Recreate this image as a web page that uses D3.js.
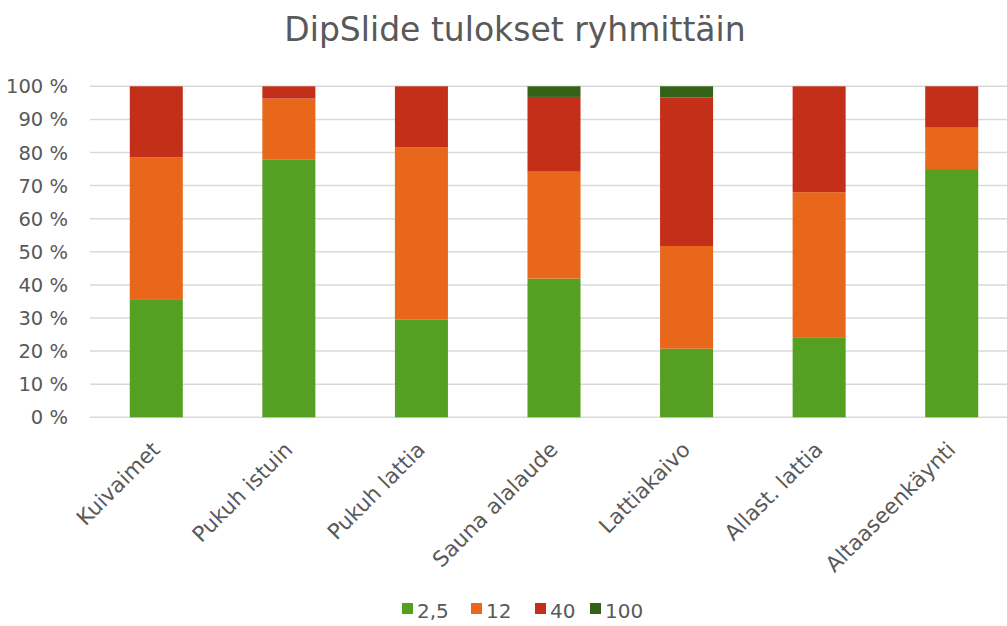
<!DOCTYPE html>
<html><head><meta charset="utf-8">
<script src="https://cdn.jsdelivr.net/npm/d3@7"></script>
<style>
html,body{margin:0;padding:0;background:#fff;}
svg{display:block;font-family:"DejaVu Sans",sans-serif;}
</style></head>
<body><svg id="c" width="1007" height="626"></svg>
<script>
const categories = ["Kuivaimet","Pukuh istuin","Pukuh lattia","Sauna alalaude","Lattiakaivo","Allast. lattia","Altaaseenkäynti"];
const seriesNames = ["2,5","12","40","100"];
const s25  = [35.7, 77.8, 29.6, 41.9, 20.7, 24.0, 75.0];
const s12  = [42.9, 18.5, 51.9, 32.3, 31.0, 44.0, 12.5];
const s40  = [21.4,  3.7, 18.5, 22.6, 44.8, 32.0, 12.5];
const s100 = [ 0.0,  0.0,  0.0,  3.2,  3.4,  0.0,  0.0];
const colors = ["#55a023","#e8671a","#c42f1a","#346118"];
const yTicks = [0,10,20,30,40,50,60,70,80,90,100];
const title = "DipSlide tulokset ryhmittäin";

const seriesVals = [s25, s12, s40, s100];
const rows = categories.map((c,i)=>{const r={cat:c}; seriesNames.forEach((s,j)=>r[s]=seriesVals[j][i]); return r;});
const stack = d3.stack().keys(seriesNames).offset(d3.stackOffsetExpand)(rows);

const svg = d3.select("#c");
const x = d3.scaleBand().domain(categories).range([90,1018]).paddingInner(0.6).paddingOuter(0.3);
const y = d3.scaleLinear().domain([0,1]).range([417.3,86.3]);
const textCol = "#595959";

// gridlines
svg.append("g").selectAll("line").data(yTicks).join("line")
  .attr("x1",90).attr("x2",1007)
  .attr("y1",d=>y(d/100)).attr("y2",d=>y(d/100))
  .attr("stroke","#d9d9d9").attr("stroke-width",1.5);

// y labels
svg.append("g").selectAll("text").data(yTicks).join("text")
  .attr("x",68).attr("y",d=>y(d/100)).attr("dy","0.36em")
  .attr("text-anchor","end").attr("font-size",19.5).attr("fill",textCol)
  .text(d=>d+" %");

// bars
svg.append("g").selectAll("g").data(stack).join("g")
  .attr("fill",(d,i)=>colors[i])
  .selectAll("rect").data(d=>d).join("rect")
  .attr("x",d=>x(d.data.cat)).attr("width",x.bandwidth())
  .attr("y",d=>y(d[1])).attr("height",d=>Math.max(0,y(d[0])-y(d[1])));

// x labels
svg.append("g").selectAll("text").data(categories).join("text")
  .attr("transform",d=>`translate(${x(d)+x.bandwidth()/2+5},451) rotate(-45)`)
  .attr("text-anchor","end").attr("font-size",21.5).attr("fill",textCol)
  .text(d=>d);

// title
svg.append("text").attr("x",515).attr("y",41).attr("text-anchor","middle")
  .attr("font-size",33).attr("fill",textCol).text(title);

// legend
const legX = [402,471,535,590];
const leg = svg.append("g").selectAll("g").data(seriesNames).join("g")
  .attr("transform",(d,i)=>`translate(${legX[i]},603)`);
leg.append("rect").attr("width",11).attr("height",11).attr("fill",(d,i)=>colors[i]);
leg.append("text").attr("x",15).attr("y",15).attr("font-size",20).attr("fill",textCol).text(d=>d);
</script></body></html>
